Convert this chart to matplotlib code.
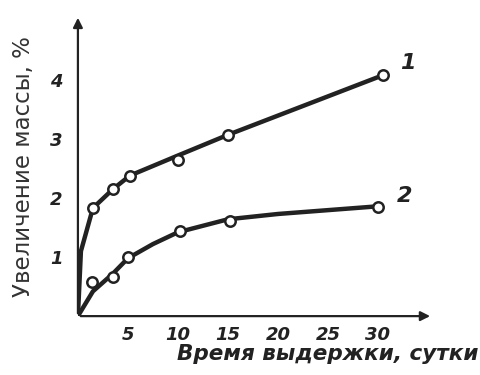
import matplotlib
matplotlib.use("Agg")
import matplotlib.pyplot as plt

# measured points (days, mass gain %)
days1 = [1.5, 3.5, 5.2, 10, 15, 30.5]
gain1 = [1.83, 2.15, 2.38, 2.64, 3.07, 4.08]
days2 = [1.4, 3.5, 5.0, 10.2, 15.2, 30]
gain2 = [0.58, 0.66, 1.0, 1.45, 1.61, 1.84]

# hand-drawn curves
curve1_x = [0, 0.3, 1.5, 3.5, 5.2, 10, 15, 30.5]
curve1_y = [0, 1.1, 1.83, 2.15, 2.38, 2.72, 3.07, 4.08]
curve2_x = [0, 1.5, 3.5, 5, 7.5, 10, 15, 20, 30]
curve2_y = [0, 0.42, 0.72, 0.98, 1.22, 1.42, 1.64, 1.73, 1.86]

xticks = [5, 10, 15, 20, 25, 30]
yticks = [1, 2, 3, 4]

fig = plt.figure(figsize=(4.81, 3.75), dpi=100)
ax = fig.add_axes([0.162, 0.157, 0.738, 0.803])
ax.set_xlim(0, 35.5)
ax.set_ylim(0, 5.1)
for s in ax.spines.values():
    s.set_visible(False)

# axes as arrows
ax.annotate("", xy=(1, 0), xytext=(0, 0), xycoords="axes fraction",
            arrowprops=dict(arrowstyle="-|>", lw=1.6, color="#222222",
                            mutation_scale=14))
ax.annotate("", xy=(0, 1), xytext=(0, 0), xycoords="axes fraction",
            arrowprops=dict(arrowstyle="-|>", lw=1.6, color="#222222",
                            mutation_scale=14))

ax.plot(curve1_x, curve1_y, color="#222222", lw=3.2, solid_capstyle="round")
ax.plot(curve2_x, curve2_y, color="#222222", lw=3.2, solid_capstyle="round")
ax.plot(days1, gain1, "o", ms=7.5, mfc="white", mec="#222222", mew=1.8)
ax.plot(days2, gain2, "o", ms=7.5, mfc="white", mec="#222222", mew=1.8)

ax.set_xticks(xticks)
ax.set_yticks(yticks)
ax.tick_params(length=0)
ax.tick_params(axis="x", pad=7)
ax.tick_params(axis="y", pad=11)
for lab in ax.get_xticklabels() + ax.get_yticklabels():
    lab.set_fontsize(13)
    lab.set_fontstyle("italic")
    lab.set_fontweight("bold")
    lab.set_color("#222222")

ax.text(0.93, 0.84, "1", transform=ax.transAxes, fontsize=16, ha="center",
        va="center", style="italic", weight="bold", color="#222222")
ax.text(0.92, 0.40, "2", transform=ax.transAxes, fontsize=16, ha="center",
        va="center", style="italic", weight="bold", color="#222222")

fig.text(0.048, 0.557, "Увеличение массы, %", rotation=90, fontsize=16.5,
         ha="center", va="center", color="#333333")
fig.text(0.995, 0.055, "Время выдержки, сутки", fontsize=15.5, ha="right",
         va="center", style="italic", weight="bold", color="#222222")

fig.savefig("out.png", dpi=100)
